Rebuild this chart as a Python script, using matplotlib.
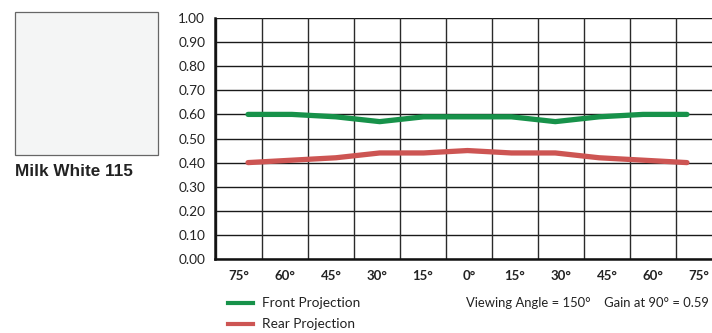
import matplotlib
matplotlib.use("Agg")
import matplotlib.pyplot as plt
from matplotlib.patches import Rectangle
from matplotlib.lines import Line2D

angles = ["75°", "60°", "45°", "30°", "15°", "0°", "15°", "30°", "45°", "60°", "75°"]
front = [0.60, 0.60, 0.59, 0.57, 0.59, 0.59, 0.59, 0.57, 0.59, 0.60, 0.60]
rear = [0.40, 0.41, 0.42, 0.44, 0.44, 0.45, 0.44, 0.44, 0.42, 0.41, 0.40]
yticks = [0.0, 0.1, 0.2, 0.3, 0.4, 0.5, 0.6, 0.7, 0.8, 0.9, 1.0]
swatch_name = "Milk White 115"
note = "Viewing Angle = 150°    Gain at 90° = 0.59"

GREEN = "#17924a"
RED = "#cd5553"
W, H = 712, 333
fig = plt.figure(figsize=(W / 100, H / 100), dpi=100)

# main axes
L, R, T, B = 215, 712, 18, 259
ax = fig.add_axes([L / W, (H - B) / H, (R - L) / W, (B - T) / H])
n = len(angles)
ax.set_xlim(-0.52, n - 0.72)
ax.set_ylim(0, 1)
ax.set_yticks(yticks)
ax.set_yticklabels([f"{v:.2f}" for v in yticks], family="Lato", fontsize=9.8, color="#222")
ax.set_xticks(range(n))
ax.set_xticklabels(angles, family="Lato", fontweight="bold", fontsize=9.5, color="#222")
ax.tick_params(axis="both", which="both", length=0)
ax.tick_params(axis="y", pad=7)
ax.tick_params(axis="x", pad=8)
ax.grid(False)
for v in yticks:
    ax.axhline(v, color="#1a1a1a", lw=1.0, zorder=1)
for i in range(n + 1):
    ax.axvline(i - 0.5, color="#2a2a2a", lw=1.0, zorder=1)
for s in ["top", "right"]:
    ax.spines[s].set_visible(False)
ax.spines["left"].set_linewidth(1.8)
ax.spines["bottom"].set_linewidth(1.8)
ax.spines["left"].set_color("#111")
ax.spines["bottom"].set_color("#111")

# data axes (points span slightly inside the label positions)
ax2 = ax.twiny()
ax2.set_xlim(-0.752, 10.57)
ax2.set_ylim(0, 1)
ax2.axis("off")
x = list(range(n))
ax2.plot(x, front, color=GREEN, lw=3.8, solid_capstyle="round", zorder=3)
ax2.plot(x, rear, color=RED, lw=3.8, solid_capstyle="round", zorder=3)

# swatch
fig.patches.append(Rectangle((15 / W, (H - 155) / H), 143 / W, 143 / H,
                             transform=fig.transFigure, facecolor="#f4f5f5",
                             edgecolor="#666", lw=0.9))
fig.text(15 / W, 1 - 172 / H, swatch_name, family="Liberation Sans", fontweight="bold",
         fontsize=12.3, color="#222", va="center", ha="left")

# legend
for yy, c, lab in [(303, GREEN, "Front Projection"), (324, RED, "Rear Projection")]:
    fig.lines.append(Line2D([228 / W, 253 / W], [1 - yy / H] * 2, transform=fig.transFigure,
                            color=c, lw=3.0))
    fig.text(262 / W, 1 - yy / H, lab, family="Lato", fontsize=9.8, color="#222",
             va="center", ha="left")
fig.text(709 / W, 1 - 303 / H, note, family="Lato", fontsize=9.35, color="#222",
         va="center", ha="right")

fig.savefig("out.png", dpi=100)
